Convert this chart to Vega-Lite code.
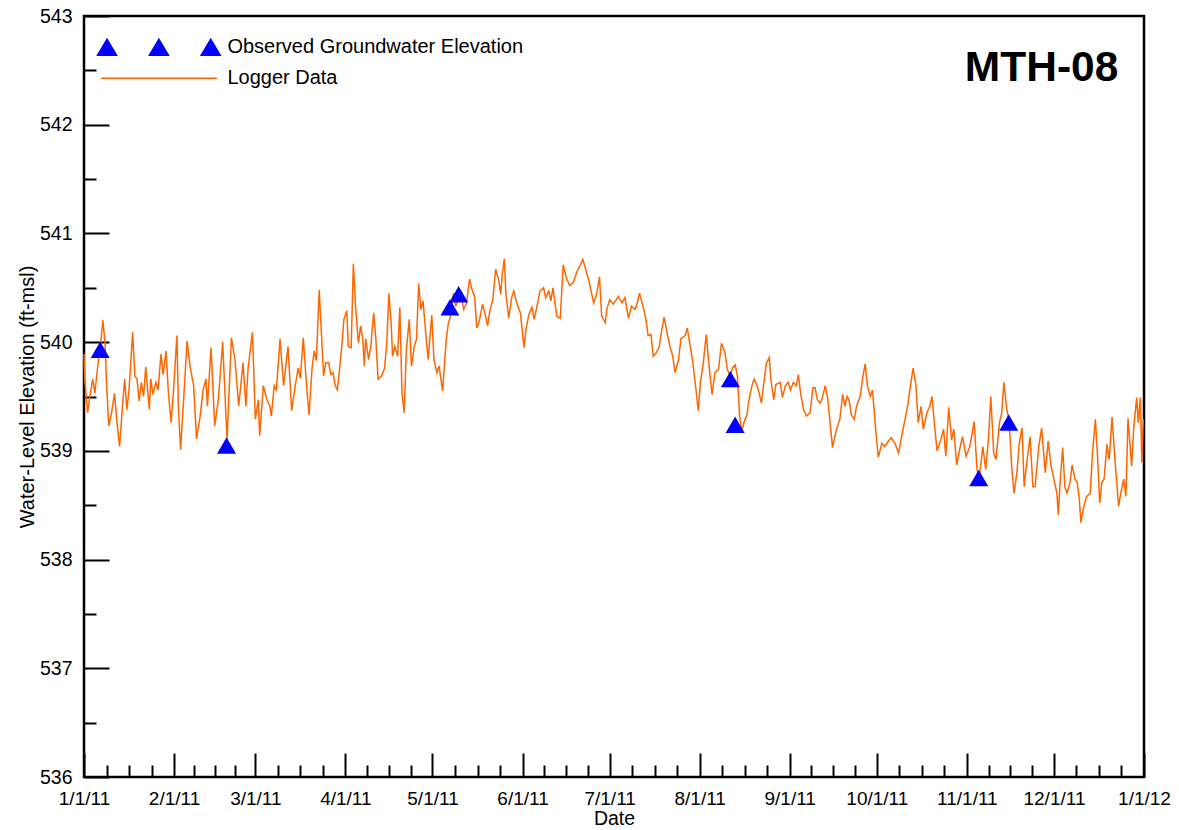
{
"$schema": "https://vega.github.io/schema/vega-lite/v6.json",
"width": 1060,
"height": 761,
"autosize": {"type": "none"},
"padding": {"left": 84, "top": 16, "right": 35, "bottom": 53},
"background": "white",
"config": {
  "view": {"stroke": "black", "strokeWidth": 2.5},
  "font": "Liberation Sans",
  "axis": {"domain": false, "grid": false, "tickColor": "black", "tickWidth": 2, "labelColor": "black", "titleColor": "black", "labelFont": "Liberation Sans", "titleFont": "Liberation Sans", "labelFontSize": 19.5, "titleFontSize": 20, "titleFontWeight": "normal"}
},
"datasets": {
"observed": [
{"date":"2011-01-06T14:00Z","elev":539.93},
{"date":"2011-02-19T02:00Z","elev":539.05},
{"date":"2011-05-07T00:00Z","elev":540.32},
{"date":"2011-05-10T00:00Z","elev":540.44},
{"date":"2011-08-11T14:00Z","elev":539.66},
{"date":"2011-08-13T05:00Z","elev":539.24},
{"date":"2011-11-05T02:00Z","elev":538.75},
{"date":"2011-11-15T10:00Z","elev":539.26}
],
"logger": [
{"date":"2011-01-01T00:00Z","elev":539.89},{"date":"2011-01-01T06:00Z","elev":539.66},{"date":"2011-01-02T06:00Z","elev":539.35},{"date":"2011-01-03T00:00Z","elev":539.50},{"date":"2011-01-04T00:00Z","elev":539.66},{"date":"2011-01-04T18:00Z","elev":539.53},{"date":"2011-01-05T06:00Z","elev":539.66},{"date":"2011-01-06T00:00Z","elev":539.84},{"date":"2011-01-06T18:00Z","elev":539.99},{"date":"2011-01-07T12:00Z","elev":540.20},{"date":"2011-01-08T06:00Z","elev":539.99},{"date":"2011-01-08T18:00Z","elev":539.63},{"date":"2011-01-09T12:00Z","elev":539.23},{"date":"2011-01-10T12:00Z","elev":539.35},{"date":"2011-01-11T12:00Z","elev":539.53},{"date":"2011-01-12T06:00Z","elev":539.29},{"date":"2011-01-13T06:00Z","elev":539.04},{"date":"2011-01-14T06:00Z","elev":539.41},{"date":"2011-01-15T00:00Z","elev":539.66},{"date":"2011-01-15T18:00Z","elev":539.38},{"date":"2011-01-16T12:00Z","elev":539.56},{"date":"2011-01-17T18:00Z","elev":540.09},{"date":"2011-01-18T12:00Z","elev":539.69},{"date":"2011-01-19T06:00Z","elev":539.66},{"date":"2011-01-20T00:00Z","elev":539.46},{"date":"2011-01-20T18:00Z","elev":539.63},{"date":"2011-01-21T12:00Z","elev":539.50},{"date":"2011-01-22T06:00Z","elev":539.77},{"date":"2011-01-23T12:00Z","elev":539.38},{"date":"2011-01-24T00:00Z","elev":539.66},{"date":"2011-01-24T18:00Z","elev":539.52},{"date":"2011-01-25T18:00Z","elev":539.63},{"date":"2011-01-26T12:00Z","elev":539.56},{"date":"2011-01-27T12:00Z","elev":539.89},{"date":"2011-01-28T06:00Z","elev":539.70},{"date":"2011-01-29T06:00Z","elev":539.92},{"date":"2011-01-30T00:00Z","elev":539.56},{"date":"2011-01-31T00:00Z","elev":539.26},{"date":"2011-01-31T18:00Z","elev":539.53},
{"date":"2011-02-02T00:00Z","elev":540.06},{"date":"2011-02-02T12:00Z","elev":539.41},{"date":"2011-02-03T06:00Z","elev":539.01},{"date":"2011-02-04T12:00Z","elev":539.56},{"date":"2011-02-05T12:00Z","elev":540.01},{"date":"2011-02-06T12:00Z","elev":539.78},{"date":"2011-02-07T18:00Z","elev":539.60},{"date":"2011-02-08T18:00Z","elev":539.11},{"date":"2011-02-10T00:00Z","elev":539.32},{"date":"2011-02-11T00:00Z","elev":539.56},{"date":"2011-02-12T00:00Z","elev":539.66},{"date":"2011-02-12T12:00Z","elev":539.41},{"date":"2011-02-13T18:00Z","elev":539.95},{"date":"2011-02-15T00:00Z","elev":539.23},{"date":"2011-02-16T06:00Z","elev":539.47},{"date":"2011-02-17T18:00Z","elev":540.00},{"date":"2011-02-19T06:00Z","elev":539.10},{"date":"2011-02-20T18:00Z","elev":540.04},{"date":"2011-02-22T00:00Z","elev":539.84},{"date":"2011-02-23T06:00Z","elev":539.41},{"date":"2011-02-24T00:00Z","elev":539.60},{"date":"2011-02-24T18:00Z","elev":539.81},{"date":"2011-02-25T18:00Z","elev":539.41},{"date":"2011-02-26T12:00Z","elev":539.76},{"date":"2011-02-28T00:00Z","elev":540.09},
{"date":"2011-03-01T00:00Z","elev":539.29},{"date":"2011-03-02T00:00Z","elev":539.47},{"date":"2011-03-02T12:00Z","elev":539.14},{"date":"2011-03-03T18:00Z","elev":539.60},{"date":"2011-03-05T00:00Z","elev":539.47},{"date":"2011-03-06T00:00Z","elev":539.41},{"date":"2011-03-06T12:00Z","elev":539.32},{"date":"2011-03-07T12:00Z","elev":539.60},{"date":"2011-03-08T06:00Z","elev":539.56},{"date":"2011-03-09T12:00Z","elev":540.03},{"date":"2011-03-10T18:00Z","elev":539.60},{"date":"2011-03-12T06:00Z","elev":539.96},{"date":"2011-03-13T12:00Z","elev":539.37},{"date":"2011-03-14T18:00Z","elev":539.60},{"date":"2011-03-15T18:00Z","elev":539.76},{"date":"2011-03-16T12:00Z","elev":539.67},{"date":"2011-03-17T12:00Z","elev":540.04},{"date":"2011-03-18T18:00Z","elev":539.56},{"date":"2011-03-19T12:00Z","elev":539.33},{"date":"2011-03-20T12:00Z","elev":539.75},{"date":"2011-03-21T06:00Z","elev":539.92},{"date":"2011-03-22T00:00Z","elev":539.83},{"date":"2011-03-23T00:00Z","elev":540.48},{"date":"2011-03-23T12:00Z","elev":540.21},{"date":"2011-03-24T12:00Z","elev":539.69},{"date":"2011-03-25T06:00Z","elev":539.81},{"date":"2011-03-26T06:00Z","elev":539.81},{"date":"2011-03-27T00:00Z","elev":539.70},{"date":"2011-03-27T18:00Z","elev":539.72},{"date":"2011-03-28T12:00Z","elev":539.60},{"date":"2011-03-29T06:00Z","elev":539.56},{"date":"2011-03-30T00:00Z","elev":539.75},{"date":"2011-03-30T18:00Z","elev":539.96},{"date":"2011-03-31T12:00Z","elev":540.21},
{"date":"2011-04-01T12:00Z","elev":540.29},{"date":"2011-04-02T00:00Z","elev":539.96},{"date":"2011-04-03T00:00Z","elev":539.95},{"date":"2011-04-03T18:00Z","elev":540.72},{"date":"2011-04-04T12:00Z","elev":540.33},{"date":"2011-04-05T12:00Z","elev":539.99},{"date":"2011-04-06T06:00Z","elev":540.15},{"date":"2011-04-07T00:00Z","elev":540.03},{"date":"2011-04-07T12:00Z","elev":539.78},{"date":"2011-04-08T00:00Z","elev":540.03},{"date":"2011-04-09T00:00Z","elev":539.84},{"date":"2011-04-09T18:00Z","elev":539.96},{"date":"2011-04-10T18:00Z","elev":540.27},{"date":"2011-04-11T12:00Z","elev":540.03},{"date":"2011-04-12T06:00Z","elev":539.66},{"date":"2011-04-13T12:00Z","elev":539.69},{"date":"2011-04-14T12:00Z","elev":539.76},{"date":"2011-04-15T06:00Z","elev":539.99},{"date":"2011-04-16T00:00Z","elev":540.45},{"date":"2011-04-16T18:00Z","elev":540.18},{"date":"2011-04-17T06:00Z","elev":539.87},{"date":"2011-04-18T00:00Z","elev":539.96},{"date":"2011-04-19T00:00Z","elev":539.87},{"date":"2011-04-19T18:00Z","elev":540.32},{"date":"2011-04-20T12:00Z","elev":539.53},{"date":"2011-04-21T06:00Z","elev":539.35},{"date":"2011-04-22T00:00Z","elev":539.93},{"date":"2011-04-23T00:00Z","elev":540.21},{"date":"2011-04-23T18:00Z","elev":539.78},{"date":"2011-04-24T18:00Z","elev":539.96},{"date":"2011-04-25T12:00Z","elev":540.03},{"date":"2011-04-26T06:00Z","elev":540.54},{"date":"2011-04-27T00:00Z","elev":540.30},{"date":"2011-04-27T18:00Z","elev":540.38},{"date":"2011-04-28T18:00Z","elev":540.06},{"date":"2011-04-29T12:00Z","elev":539.84},{"date":"2011-04-30T18:00Z","elev":540.25},
{"date":"2011-05-01T12:00Z","elev":539.84},{"date":"2011-05-02T12:00Z","elev":539.72},{"date":"2011-05-03T06:00Z","elev":539.78},{"date":"2011-05-04T12:00Z","elev":539.55},{"date":"2011-05-05T18:00Z","elev":540.03},{"date":"2011-05-06T12:00Z","elev":540.18},{"date":"2011-05-07T06:00Z","elev":540.24},{"date":"2011-05-08T06:00Z","elev":540.45},{"date":"2011-05-09T00:00Z","elev":540.33},{"date":"2011-05-10T00:00Z","elev":540.41},{"date":"2011-05-10T18:00Z","elev":540.45},{"date":"2011-05-11T18:00Z","elev":540.30},{"date":"2011-05-12T18:00Z","elev":540.36},{"date":"2011-05-13T18:00Z","elev":540.58},{"date":"2011-05-14T12:00Z","elev":540.49},{"date":"2011-05-15T12:00Z","elev":540.42},{"date":"2011-05-16T06:00Z","elev":540.13},{"date":"2011-05-17T00:00Z","elev":540.18},{"date":"2011-05-18T06:00Z","elev":540.35},{"date":"2011-05-19T00:00Z","elev":540.27},{"date":"2011-05-20T00:00Z","elev":540.15},{"date":"2011-05-20T18:00Z","elev":540.29},{"date":"2011-05-21T18:00Z","elev":540.39},{"date":"2011-05-22T18:00Z","elev":540.67},{"date":"2011-05-23T18:00Z","elev":540.58},{"date":"2011-05-24T12:00Z","elev":540.44},{"date":"2011-05-25T00:00Z","elev":540.62},{"date":"2011-05-25T18:00Z","elev":540.77},{"date":"2011-05-26T06:00Z","elev":540.45},{"date":"2011-05-27T06:00Z","elev":540.22},{"date":"2011-05-28T06:00Z","elev":540.41},{"date":"2011-05-29T00:00Z","elev":540.47},{"date":"2011-05-30T00:00Z","elev":540.36},{"date":"2011-05-31T06:00Z","elev":540.27},{"date":"2011-05-31T18:00Z","elev":540.15},
{"date":"2011-06-01T12:00Z","elev":539.95},{"date":"2011-06-02T06:00Z","elev":540.13},{"date":"2011-06-03T06:00Z","elev":540.26},{"date":"2011-06-04T06:00Z","elev":540.32},{"date":"2011-06-05T00:00Z","elev":540.21},{"date":"2011-06-05T18:00Z","elev":540.30},{"date":"2011-06-07T00:00Z","elev":540.47},{"date":"2011-06-08T06:00Z","elev":540.50},{"date":"2011-06-09T00:00Z","elev":540.41},{"date":"2011-06-10T00:00Z","elev":540.47},{"date":"2011-06-10T18:00Z","elev":540.38},{"date":"2011-06-11T12:00Z","elev":540.50},{"date":"2011-06-12T18:00Z","elev":540.24},{"date":"2011-06-14T00:00Z","elev":540.22},{"date":"2011-06-15T00:00Z","elev":540.71},{"date":"2011-06-16T06:00Z","elev":540.58},{"date":"2011-06-17T06:00Z","elev":540.52},{"date":"2011-06-18T12:00Z","elev":540.55},{"date":"2011-06-19T18:00Z","elev":540.65},{"date":"2011-06-20T18:00Z","elev":540.70},{"date":"2011-06-21T18:00Z","elev":540.76},{"date":"2011-06-22T18:00Z","elev":540.67},{"date":"2011-06-24T00:00Z","elev":540.55},{"date":"2011-06-24T18:00Z","elev":540.45},{"date":"2011-06-25T12:00Z","elev":540.36},{"date":"2011-06-26T12:00Z","elev":540.44},{"date":"2011-06-27T12:00Z","elev":540.60},{"date":"2011-06-28T06:00Z","elev":540.24},{"date":"2011-06-29T12:00Z","elev":540.18},{"date":"2011-06-30T00:00Z","elev":540.30},
{"date":"2011-07-01T00:00Z","elev":540.39},{"date":"2011-07-02T06:00Z","elev":540.35},{"date":"2011-07-04T00:00Z","elev":540.42},{"date":"2011-07-05T06:00Z","elev":540.36},{"date":"2011-07-06T06:00Z","elev":540.41},{"date":"2011-07-07T12:00Z","elev":540.22},{"date":"2011-07-08T12:00Z","elev":540.33},{"date":"2011-07-09T18:00Z","elev":540.30},{"date":"2011-07-10T12:00Z","elev":540.36},{"date":"2011-07-11T06:00Z","elev":540.45},{"date":"2011-07-12T12:00Z","elev":540.33},{"date":"2011-07-13T12:00Z","elev":540.21},{"date":"2011-07-14T06:00Z","elev":540.06},{"date":"2011-07-15T06:00Z","elev":540.07},{"date":"2011-07-16T00:00Z","elev":539.87},{"date":"2011-07-17T00:00Z","elev":539.90},{"date":"2011-07-18T00:00Z","elev":539.95},{"date":"2011-07-19T00:00Z","elev":540.12},{"date":"2011-07-19T18:00Z","elev":540.23},{"date":"2011-07-20T18:00Z","elev":540.09},{"date":"2011-07-21T18:00Z","elev":539.96},{"date":"2011-07-22T18:00Z","elev":539.87},{"date":"2011-07-23T12:00Z","elev":539.72},{"date":"2011-07-24T18:00Z","elev":539.84},{"date":"2011-07-25T12:00Z","elev":540.03},{"date":"2011-07-27T00:00Z","elev":540.06},{"date":"2011-07-27T18:00Z","elev":540.13},{"date":"2011-07-28T18:00Z","elev":539.96},{"date":"2011-07-29T12:00Z","elev":539.84},{"date":"2011-07-30T18:00Z","elev":539.56},{"date":"2011-07-31T12:00Z","elev":539.37},
{"date":"2011-08-01T06:00Z","elev":539.63},{"date":"2011-08-02T06:00Z","elev":539.81},{"date":"2011-08-03T06:00Z","elev":540.07},{"date":"2011-08-04T06:00Z","elev":539.78},{"date":"2011-08-05T06:00Z","elev":539.52},{"date":"2011-08-06T06:00Z","elev":539.72},{"date":"2011-08-07T12:00Z","elev":539.75},{"date":"2011-08-08T12:00Z","elev":539.99},{"date":"2011-08-09T18:00Z","elev":539.90},{"date":"2011-08-10T12:00Z","elev":539.75},{"date":"2011-08-11T12:00Z","elev":539.69},{"date":"2011-08-12T06:00Z","elev":539.76},{"date":"2011-08-13T06:00Z","elev":539.79},{"date":"2011-08-14T00:00Z","elev":539.69},{"date":"2011-08-14T18:00Z","elev":539.32},{"date":"2011-08-15T12:00Z","elev":539.17},{"date":"2011-08-16T06:00Z","elev":539.26},{"date":"2011-08-17T06:00Z","elev":539.33},{"date":"2011-08-18T00:00Z","elev":539.47},{"date":"2011-08-19T00:00Z","elev":539.60},{"date":"2011-08-19T18:00Z","elev":539.66},{"date":"2011-08-20T18:00Z","elev":539.60},{"date":"2011-08-21T12:00Z","elev":539.53},{"date":"2011-08-22T06:00Z","elev":539.44},{"date":"2011-08-23T06:00Z","elev":539.66},{"date":"2011-08-24T00:00Z","elev":539.81},{"date":"2011-08-25T00:00Z","elev":539.86},{"date":"2011-08-25T12:00Z","elev":539.66},{"date":"2011-08-26T12:00Z","elev":539.47},{"date":"2011-08-27T06:00Z","elev":539.61},{"date":"2011-08-28T18:00Z","elev":539.63},{"date":"2011-08-29T12:00Z","elev":539.49},{"date":"2011-08-30T12:00Z","elev":539.60},{"date":"2011-08-31T12:00Z","elev":539.63},
{"date":"2011-09-01T06:00Z","elev":539.56},{"date":"2011-09-02T06:00Z","elev":539.63},{"date":"2011-09-03T06:00Z","elev":539.60},{"date":"2011-09-04T00:00Z","elev":539.70},{"date":"2011-09-04T18:00Z","elev":539.53},{"date":"2011-09-05T18:00Z","elev":539.38},{"date":"2011-09-06T18:00Z","elev":539.32},{"date":"2011-09-08T00:00Z","elev":539.35},{"date":"2011-09-09T00:00Z","elev":539.58},{"date":"2011-09-09T18:00Z","elev":539.58},{"date":"2011-09-10T12:00Z","elev":539.47},{"date":"2011-09-11T12:00Z","elev":539.44},{"date":"2011-09-12T06:00Z","elev":539.49},{"date":"2011-09-13T06:00Z","elev":539.60},{"date":"2011-09-14T00:00Z","elev":539.50},{"date":"2011-09-15T00:00Z","elev":539.23},{"date":"2011-09-15T18:00Z","elev":539.03},{"date":"2011-09-16T12:00Z","elev":539.13},{"date":"2011-09-17T12:00Z","elev":539.23},{"date":"2011-09-18T06:00Z","elev":539.29},{"date":"2011-09-19T06:00Z","elev":539.52},{"date":"2011-09-20T00:00Z","elev":539.41},{"date":"2011-09-20T18:00Z","elev":539.50},{"date":"2011-09-21T12:00Z","elev":539.46},{"date":"2011-09-22T06:00Z","elev":539.33},{"date":"2011-09-23T06:00Z","elev":539.29},{"date":"2011-09-24T00:00Z","elev":539.41},{"date":"2011-09-25T06:00Z","elev":539.50},{"date":"2011-09-26T06:00Z","elev":539.69},{"date":"2011-09-27T00:00Z","elev":539.80},{"date":"2011-09-27T18:00Z","elev":539.60},{"date":"2011-09-28T18:00Z","elev":539.50},{"date":"2011-09-29T12:00Z","elev":539.56},{"date":"2011-09-30T12:00Z","elev":539.23},
{"date":"2011-10-01T12:00Z","elev":538.94},{"date":"2011-10-02T18:00Z","elev":539.07},{"date":"2011-10-03T18:00Z","elev":539.04},{"date":"2011-10-05T00:00Z","elev":539.09},{"date":"2011-10-06T00:00Z","elev":539.12},{"date":"2011-10-07T06:00Z","elev":539.07},{"date":"2011-10-08T12:00Z","elev":538.98},{"date":"2011-10-09T12:00Z","elev":539.13},{"date":"2011-10-10T18:00Z","elev":539.29},{"date":"2011-10-11T18:00Z","elev":539.44},{"date":"2011-10-12T18:00Z","elev":539.63},{"date":"2011-10-13T12:00Z","elev":539.76},{"date":"2011-10-14T12:00Z","elev":539.60},{"date":"2011-10-15T06:00Z","elev":539.26},{"date":"2011-10-16T06:00Z","elev":539.41},{"date":"2011-10-17T00:00Z","elev":539.20},{"date":"2011-10-18T06:00Z","elev":539.35},{"date":"2011-10-19T06:00Z","elev":539.41},{"date":"2011-10-20T00:00Z","elev":539.50},{"date":"2011-10-21T00:00Z","elev":539.20},{"date":"2011-10-21T18:00Z","elev":539.00},{"date":"2011-10-23T00:00Z","elev":539.10},{"date":"2011-10-24T00:00Z","elev":539.20},{"date":"2011-10-24T18:00Z","elev":538.95},{"date":"2011-10-25T18:00Z","elev":539.40},{"date":"2011-10-26T18:00Z","elev":539.10},{"date":"2011-10-27T12:00Z","elev":539.20},{"date":"2011-10-28T12:00Z","elev":538.87},{"date":"2011-10-29T12:00Z","elev":539.01},{"date":"2011-10-30T12:00Z","elev":539.13},{"date":"2011-10-31T18:00Z","elev":538.95},
{"date":"2011-11-02T00:00Z","elev":539.04},{"date":"2011-11-02T18:00Z","elev":539.15},{"date":"2011-11-03T12:00Z","elev":539.27},{"date":"2011-11-04T12:00Z","elev":538.83},{"date":"2011-11-05T06:00Z","elev":538.74},{"date":"2011-11-06T12:00Z","elev":539.04},{"date":"2011-11-07T12:00Z","elev":538.83},{"date":"2011-11-08T12:00Z","elev":539.13},{"date":"2011-11-09T06:00Z","elev":539.50},{"date":"2011-11-10T06:00Z","elev":538.98},{"date":"2011-11-11T00:00Z","elev":538.92},{"date":"2011-11-12T06:00Z","elev":539.26},{"date":"2011-11-13T00:00Z","elev":539.35},{"date":"2011-11-13T18:00Z","elev":539.63},{"date":"2011-11-14T18:00Z","elev":539.38},{"date":"2011-11-15T12:00Z","elev":539.29},{"date":"2011-11-16T12:00Z","elev":538.83},{"date":"2011-11-17T06:00Z","elev":538.61},{"date":"2011-11-18T06:00Z","elev":538.80},{"date":"2011-11-19T00:00Z","elev":539.06},{"date":"2011-11-20T00:00Z","elev":539.21},{"date":"2011-11-20T18:00Z","elev":538.67},{"date":"2011-11-21T12:00Z","elev":538.86},{"date":"2011-11-22T18:00Z","elev":539.13},{"date":"2011-11-23T18:00Z","elev":538.67},{"date":"2011-11-24T12:00Z","elev":538.67},{"date":"2011-11-25T18:00Z","elev":539.04},{"date":"2011-11-26T18:00Z","elev":539.21},{"date":"2011-11-28T00:00Z","elev":538.80},{"date":"2011-11-29T00:00Z","elev":539.09},{"date":"2011-11-30T00:00Z","elev":538.86},{"date":"2011-11-30T18:00Z","elev":538.77},
{"date":"2011-12-02T00:00Z","elev":538.61},{"date":"2011-12-02T12:00Z","elev":538.41},{"date":"2011-12-03T00:00Z","elev":538.67},{"date":"2011-12-04T00:00Z","elev":539.03},{"date":"2011-12-04T18:00Z","elev":538.67},{"date":"2011-12-05T12:00Z","elev":538.61},{"date":"2011-12-06T12:00Z","elev":538.71},{"date":"2011-12-07T06:00Z","elev":538.87},{"date":"2011-12-08T06:00Z","elev":538.74},{"date":"2011-12-09T00:00Z","elev":538.71},{"date":"2011-12-09T18:00Z","elev":538.55},{"date":"2011-12-10T06:00Z","elev":538.34},{"date":"2011-12-11T06:00Z","elev":538.49},{"date":"2011-12-12T06:00Z","elev":538.58},{"date":"2011-12-13T12:00Z","elev":538.61},{"date":"2011-12-14T06:00Z","elev":538.98},{"date":"2011-12-15T06:00Z","elev":539.29},{"date":"2011-12-16T00:00Z","elev":538.95},{"date":"2011-12-16T18:00Z","elev":538.52},{"date":"2011-12-17T12:00Z","elev":538.71},{"date":"2011-12-18T06:00Z","elev":538.74},{"date":"2011-12-19T06:00Z","elev":539.06},{"date":"2011-12-20T00:00Z","elev":538.92},{"date":"2011-12-21T00:00Z","elev":539.31},{"date":"2011-12-22T00:00Z","elev":538.92},{"date":"2011-12-23T06:00Z","elev":538.49},{"date":"2011-12-24T00:00Z","elev":538.61},{"date":"2011-12-25T00:00Z","elev":538.74},{"date":"2011-12-25T18:00Z","elev":538.58},{"date":"2011-12-26T12:00Z","elev":539.30},{"date":"2011-12-27T18:00Z","elev":538.86},{"date":"2011-12-28T12:00Z","elev":539.23},{"date":"2011-12-29T12:00Z","elev":539.49},{"date":"2011-12-30T00:00Z","elev":539.26},{"date":"2011-12-30T18:00Z","elev":539.49},{"date":"2011-12-31T06:00Z","elev":538.89},{"date":"2011-12-31T18:00Z","elev":539.29}
]
},
"layer": [
{
  "data": {"name": "logger"},
  "mark": {"type": "line", "strokeWidth": 1.5},
  "encoding": {
    "x": {"field": "date", "type": "temporal",
      "scale": {"type": "utc", "domain": [{"year":2011,"month":1,"date":1,"utc":true},{"year":2012,"month":1,"date":1,"utc":true}], "nice": false},
      "axis": {"orient": "bottom", "title": "Date", "titleFontSize": 19.5, "labelFontSize": 19, "ticks": false, "labelPadding": 12, "titlePadding": 1, "labelFlush": false, "labelOverlap": false,
        "labelExpr": "utcFormat(datum.value, '%-m/%-d/%y')",
        "values": [{"year":2011,"month":1,"date":1,"utc":true},{"year":2011,"month":2,"date":1,"utc":true},{"year":2011,"month":3,"date":1,"utc":true},{"year":2011,"month":4,"date":1,"utc":true},{"year":2011,"month":5,"date":1,"utc":true},{"year":2011,"month":6,"date":1,"utc":true},{"year":2011,"month":7,"date":1,"utc":true},{"year":2011,"month":8,"date":1,"utc":true},{"year":2011,"month":9,"date":1,"utc":true},{"year":2011,"month":10,"date":1,"utc":true},{"year":2011,"month":11,"date":1,"utc":true},{"year":2011,"month":12,"date":1,"utc":true},{"year":2012,"month":1,"date":1,"utc":true}]}},
    "y": {"field": "elev", "type": "quantitative",
      "scale": {"domain": [536, 543], "nice": false, "zero": false},
      "axis": {"orient": "left", "title": "Water-Level Elevation (ft-msl)", "ticks": false, "labelPadding": 12, "titlePadding": 2, "labelFlush": false, "labelOverlap": false, "values": [536, 537, 538, 539, 540, 541, 542, 543]}},
    "color": {"datum": "Logger Data", "type": "nominal",
      "scale": {"domain": ["Observed Groundwater Elevation", "Logger Data"], "range": ["#0000ff", "#ff6600"]},
      "legend": {"orient": "none", "legendX": 11.4, "legendY": 20.8, "title": null, "direction": "vertical",
        "symbolSize": 15625, "clipHeight": 21, "rowPadding": 10, "labelOffset": 5, "padding": 0,
        "labelFontSize": 20, "labelFont": "Liberation Sans", "labelColor": "black", "labelLimit": 400, "symbolStrokeWidth": 1.5,
        "encode": {"symbols": {"update": {
          "shape": {"signal": "datum.label === 'Logger Data' ? 'stroke' : 'M-0.982,0.128L-0.678,0.128L-0.83,-0.128ZM-0.152,0.128L0.152,0.128L0,-0.128ZM0.677,0.128L0.981,0.128L0.829,-0.128Z'"},
          "size": {"signal": "datum.label === 'Logger Data' ? 13456 : 15625"},
          "fill": {"signal": "datum.label === 'Logger Data' ? 'transparent' : '#0000ff'"},
          "stroke": {"signal": "datum.label === 'Logger Data' ? '#ff6600' : 'transparent'"},
          "strokeWidth": {"value": 1.5},
          "opacity": {"value": 1}
        }}}}}
  }
},
{
  "data": {"name": "observed"},
  "mark": {"type": "point", "shape": "triangle-up", "filled": true, "size": 361, "opacity": 1},
  "encoding": {
    "x": {"field": "date", "type": "temporal",
      "scale": {"type": "utc", "domain": [{"year":2011,"month":1,"date":1,"utc":true},{"year":2012,"month":1,"date":1,"utc":true}], "nice": false},
      "axis": {"orient": "bottom", "title": null, "labels": false, "tickSize": -24,
        "values": [{"year":2011,"month":1,"date":1,"utc":true},{"year":2011,"month":2,"date":1,"utc":true},{"year":2011,"month":3,"date":1,"utc":true},{"year":2011,"month":4,"date":1,"utc":true},{"year":2011,"month":5,"date":1,"utc":true},{"year":2011,"month":6,"date":1,"utc":true},{"year":2011,"month":7,"date":1,"utc":true},{"year":2011,"month":8,"date":1,"utc":true},{"year":2011,"month":9,"date":1,"utc":true},{"year":2011,"month":10,"date":1,"utc":true},{"year":2011,"month":11,"date":1,"utc":true},{"year":2011,"month":12,"date":1,"utc":true},{"year":2012,"month":1,"date":1,"utc":true}]}},
    "y": {"field": "elev", "type": "quantitative",
      "scale": {"domain": [536, 543], "nice": false, "zero": false},
      "axis": {"orient": "left", "title": null, "labels": false, "tickSize": -25, "values": [536, 537, 538, 539, 540, 541, 542, 543]}},
    "color": {"datum": "Observed Groundwater Elevation", "type": "nominal"}
  }
},
{
  "data": {"values": [{"label": "MTH-08"}]},
  "mark": {"type": "text", "align": "right", "baseline": "alphabetic", "fontSize": 42.5, "fontWeight": "bold", "font": "Liberation Sans", "color": "black"},
  "encoding": {
    "x": {"datum": {"year":2011,"month":12,"date":23,"hours":4,"utc":true}, "type": "temporal",
      "scale": {"type": "utc", "domain": [{"year":2011,"month":1,"date":1,"utc":true},{"year":2012,"month":1,"date":1,"utc":true}], "nice": false},
      "axis": {"orient": "bottom", "title": null, "labels": false, "tickSize": -12,
        "values": [{"year":2011,"month":1,"date":8,"hours":18,"utc":true},{"year":2011,"month":1,"date":16,"hours":12,"utc":true},{"year":2011,"month":1,"date":24,"hours":6,"utc":true},
                   {"year":2011,"month":2,"date":8,"utc":true},{"year":2011,"month":2,"date":15,"utc":true},{"year":2011,"month":2,"date":22,"utc":true},
                   {"year":2011,"month":3,"date":8,"hours":18,"utc":true},{"year":2011,"month":3,"date":16,"hours":12,"utc":true},{"year":2011,"month":3,"date":24,"hours":6,"utc":true},
                   {"year":2011,"month":4,"date":8,"hours":12,"utc":true},{"year":2011,"month":4,"date":16,"utc":true},{"year":2011,"month":4,"date":23,"hours":12,"utc":true},
                   {"year":2011,"month":5,"date":8,"hours":18,"utc":true},{"year":2011,"month":5,"date":16,"hours":12,"utc":true},{"year":2011,"month":5,"date":24,"hours":6,"utc":true},
                   {"year":2011,"month":6,"date":8,"hours":12,"utc":true},{"year":2011,"month":6,"date":16,"utc":true},{"year":2011,"month":6,"date":23,"hours":12,"utc":true},
                   {"year":2011,"month":7,"date":8,"hours":18,"utc":true},{"year":2011,"month":7,"date":16,"hours":12,"utc":true},{"year":2011,"month":7,"date":24,"hours":6,"utc":true},
                   {"year":2011,"month":8,"date":8,"hours":18,"utc":true},{"year":2011,"month":8,"date":16,"hours":12,"utc":true},{"year":2011,"month":8,"date":24,"hours":6,"utc":true},
                   {"year":2011,"month":9,"date":8,"hours":12,"utc":true},{"year":2011,"month":9,"date":16,"utc":true},{"year":2011,"month":9,"date":23,"hours":12,"utc":true},
                   {"year":2011,"month":10,"date":8,"hours":18,"utc":true},{"year":2011,"month":10,"date":16,"hours":12,"utc":true},{"year":2011,"month":10,"date":24,"hours":6,"utc":true},
                   {"year":2011,"month":11,"date":8,"hours":12,"utc":true},{"year":2011,"month":11,"date":16,"utc":true},{"year":2011,"month":11,"date":23,"hours":12,"utc":true},
                   {"year":2011,"month":12,"date":8,"hours":18,"utc":true},{"year":2011,"month":12,"date":16,"hours":12,"utc":true},{"year":2011,"month":12,"date":24,"hours":6,"utc":true}]}},
    "y": {"datum": 542.40, "type": "quantitative",
      "scale": {"domain": [536, 543], "nice": false, "zero": false},
      "axis": {"orient": "left", "title": null, "labels": false, "tickSize": -12, "values": [536.5, 537.5, 538.5, 539.5, 540.5, 541.5, 542.5]}},
    "text": {"field": "label"}
  }
}
],
"resolve": {"axis": {"x": "independent", "y": "independent"}}
}
